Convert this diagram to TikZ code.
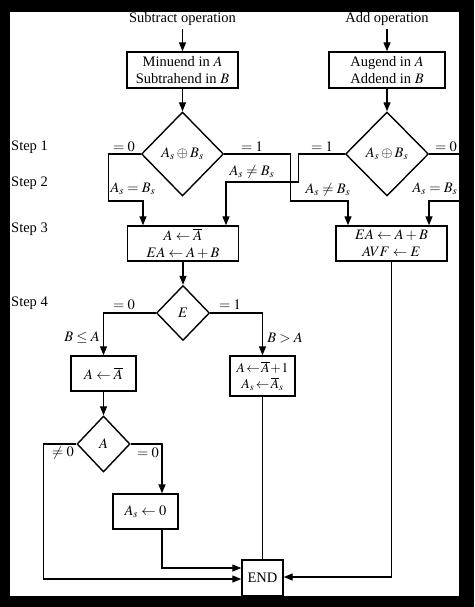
\documentclass[tikz,border=0pt]{standalone}
\usepackage{mathptmx}
\usepackage{fontspec}
\setmainfont{Liberation Serif}
\usetikzlibrary{shapes.geometric,arrows.meta}
\begin{document}
\begin{tikzpicture}[x=1pt,y=-1pt,
  every node/.style={font=\fontsize{14.5}{17}\selectfont},
  box/.style={draw,line width=1.4pt,inner sep=0pt,align=center},
  dia/.style={draw,diamond,line width=1.4pt,inner sep=0pt},
  conn/.style={line width=1.3pt},
  arr/.style={conn,-{Triangle[length=9pt,width=7pt]}},
  lab/.style={inner sep=0pt},
  head/.style={inner sep=3pt},
  tight/.style={execute at begin node={\medmuskip=1mu\thickmuskip=2mu}}]

\fill[black] (0,0) rectangle (474,607);
\fill[white] (10,12) rectangle (459,596);
\useasboundingbox (0,0) rectangle (474,607);

% step labels
\node[lab,anchor=west] (s1) at (11,147) {Step 1};
\node[lab,anchor=west] (s2) at (11,183) {Step 2};
\node[lab,anchor=west] (s3) at (11,229) {Step 3};
\node[lab,anchor=west] (s4) at (11,303) {Step 4};

% nodes
\node[head] (sub) at (182.5,19) {Subtract operation};
\node[head] (add) at (387,19) {Add operation};
\node[box,minimum width=111,minimum height=36] (minu) at (182.5,70) {Minuend in $A$\\Subtrahend in $B$};
\node[box,minimum width=116,minimum height=36] (aug) at (387,70) {Augend in $A$\\Addend in $B$};
\node[dia,minimum width=82,minimum height=84] (d1) at (182.5,154) {$A_s\oplus B_s$};
\node[dia,minimum width=83,minimum height=84] (d2) at (387,154) {$A_s\oplus B_s$};
\node[box,minimum width=111,minimum height=35] (box3L) at (183,243.5) {$A\leftarrow\overline{A}$\\$EA\leftarrow A+B$};
\node[box,minimum width=111,minimum height=35] (box3R) at (391.5,243.5) {$EA\leftarrow A+B$\\$AVF\leftarrow E$};
\node[dia,minimum width=53,minimum height=55] (E) at (183,313) {$E$};
\node[box,minimum width=65,minimum height=35] (bL) at (103.5,373.5) {$A\leftarrow\overline{A}$};
\node[box,tight,minimum width=65,minimum height=40,font=\fontsize{13.5}{16}\selectfont] (bR) at (262.5,376) {$A\leftarrow\overline{A}+1$\\$A_s\leftarrow\overline{A}_s$};
\node[dia,minimum width=53,minimum height=56] (A) at (103.5,444) {$A$};
\node[box,minimum width=65,minimum height=35] (bAs) at (145.5,511.5) {$A_s\leftarrow 0$};
\node[box,minimum width=41,minimum height=36] (END) at (262.5,578) {END};

% connectors
\draw[arr] (sub) -- (minu);
\draw[arr] (minu) -- (d1);
\draw[arr] (add) -- (aug);
\draw[arr] (aug) -- (d2);
\draw[arr] (d1.west) -- ++(-32,0) -- ++(0,47) -| ([xshift=-40pt]box3L.north);
\draw[arr] (d1.east) -- ++(66,0) -- ++(0,47) -| ([xshift=-43.5pt]box3R.north);
\draw[arr] (d2.west) -- ++(-46,0) -- ++(0,28) -| ([xshift=43pt]box3L.north);
\draw[arr] (d2.east) -- ++(30,0) -- ++(0,47) -| ([xshift=37.5pt]box3R.north);
\draw[arr] (box3L) -- (E);
\draw[arr] (E.west) -| (bL.north);
\draw[arr] (E.east) -| (bR.north);
\draw[arr] (bL) -- (A);
\draw[arr] (A.west) -- ++(-33,0) |- (END.west |- 0,579);
\draw[arr] (A.east) -- ++(32,0) -| ([xshift=16.5pt]bAs.north);
\draw[arr] ([xshift=16.5pt]bAs.south) |- (END.west |- 0,568);
\draw[conn] (bR) -- (END);
\draw[arr] (box3R.south) |- (END.east |- 0,577);

% labels
\node[lab] (l1) at (124,147) {$=0$};
\node[lab] (l2) at (133,189) {$A_s=B_s$};
\node[lab] (l3) at (252,147) {$=1$};
\node[lab] (l4) at (252,172) {$A_s\neq B_s$};
\node[lab] (l5) at (322,147) {$=1$};
\node[lab] (l6) at (328,190) {$A_s\neq B_s$};
\node[lab] (l7) at (446,147) {$=0$};
\node[lab] (l8) at (435,189) {$A_s=B_s$};
\node[lab] (l9) at (124,305) {$=0$};
\node[lab] (l10) at (230,305) {$=1$};
\node[lab] (l11) at (82,338) {$B\leq A$};
\node[lab] (l12) at (285,338) {$B>A$};
\node[lab] (l13) at (63,453) {$\neq 0$};
\node[lab] (l14) at (148,453) {$=0$};
\end{tikzpicture}
\end{document}
